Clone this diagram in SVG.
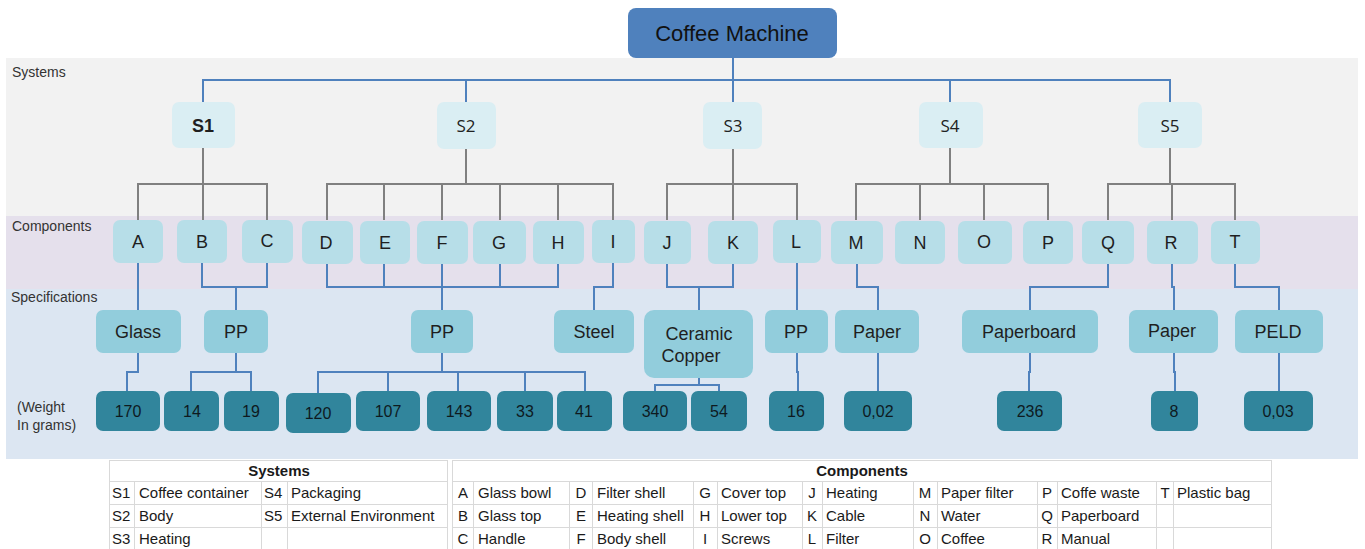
<svg xmlns="http://www.w3.org/2000/svg" width="1365" height="549" viewBox="0 0 1365 549">
<style>
.band-label{font-family:"Liberation Sans",Arial,sans-serif;font-size:14px;fill:#333}
.top{fill:#4f81bd}
.sys{fill:#daeef3}
.comp{fill:#b7dee8}
.spec{fill:#92cddc}
.wt{fill:#31859c}
.t{font-family:"Liberation Sans",Arial,sans-serif;text-anchor:middle;fill:#1f1f1f}
.ttop{font-size:22px;fill:#111}
.tsys{font-family:"Open Sans","Liberation Sans",sans-serif;font-size:17px;fill:#222}
.tc{font-size:18px}
.ts{font-size:18px}
.tw{font-size:16px;fill:#0e1a1f}
.blue{stroke:#4f81bd;stroke-width:2;fill:none}
.gray{stroke:#808080;stroke-width:2;fill:none}
.tbl{fill:#fff;stroke:#d9d9d9;stroke-width:1}
.tl{stroke:#d9d9d9;stroke-width:1}
.tx{font-family:"Liberation Sans",Arial,sans-serif;font-size:15px;fill:#1a1a1a}
.txc{font-family:"Liberation Sans",Arial,sans-serif;font-size:15px;fill:#1a1a1a;text-anchor:middle}
.th{font-family:"Liberation Sans",Arial,sans-serif;font-size:15px;font-weight:bold;fill:#1a1a1a;text-anchor:middle}
</style>
<rect width="1365" height="549" fill="#fff"/>
<g id="bands">
<rect x="6" y="58" width="1352" height="158" fill="#f2f2f2"/>
<rect x="6" y="216" width="1352" height="73" fill="#e5e0ec"/>
<rect x="6" y="289" width="1352" height="170" fill="#dce6f2"/>
<text class="band-label" x="12" y="77">Systems</text>
<text class="band-label" x="12" y="231">Components</text>
<text class="band-label" x="11" y="302">Specifications</text>
<text class="band-label" x="17" y="412">(Weight</text>
<text class="band-label" x="17" y="430">In grams)</text>
</g>
<g id="connectors">
<path class="blue" d="M733 58V80M203 102V80H1170V102M466 80V102M733 80V102M950 80V102"/>
<path class="gray" d="M203 148V184M138 220V184H267V220M203 184V220"/>
<path class="gray" d="M466 149V184M327 220V184H613V220M384 184V220M442 184V220M500 184V220M558 184V220"/>
<path class="gray" d="M733 149V184M667 220V184H797V220M733 184V220"/>
<path class="gray" d="M950 148V184M856 220V184H1048V220M920 184V220M984 184V220"/>
<path class="gray" d="M1170 148V184M1108 220V184H1235V220M1172 184V220"/>
<path class="blue" d="M138 263V310"/>
<path class="blue" d="M202 263V287H267V263M236 287V310"/>
<path class="blue" d="M327 264V287H558V264M384 264V287M500 264V287M442 264V310"/>
<path class="blue" d="M613 263V287H594V310"/>
<path class="blue" d="M667 263V287H733V263M699 287V310"/>
<path class="blue" d="M797 263V310"/>
<path class="blue" d="M857 263V287H878V310"/>
<path class="blue" d="M1108 263V287H1030V310"/>
<path class="blue" d="M1172 263V287H1174V310"/>
<path class="blue" d="M1235 263V287H1279V310"/>
<path class="blue" d="M138 353V372H127V391"/>
<path class="blue" d="M236 353V372M191 391V372H251V391"/>
<path class="blue" d="M442 353V372M318 393V372H585V391M388 372V391M458 372V391M525 372V391"/>
<path class="blue" d="M699 378V385M655 391V385H719V391"/>
<path class="blue" d="M797 353V372H798V391"/>
<path class="blue" d="M878 353V391"/>
<path class="blue" d="M1030 353V372H1029V391"/>
<path class="blue" d="M1174 353V372H1175V391"/>
<path class="blue" d="M1279 353V391"/>
</g>
<g id="coffee-machine"><rect class="top" x="628" y="8" width="209" height="50" rx="8"/><text class="t ttop" x="732" y="41">Coffee Machine</text></g>
<g id="S1"><rect class="sys" x="172" y="102" width="63" height="46" rx="7"/><text class="t" x="203" y="132" font-size="18" font-weight="bold" fill="#111">S1</text></g>
<g id="S2"><rect class="sys" x="437" y="102" width="59" height="47" rx="7"/><text class="t tsys" x="466" y="132">S2</text></g>
<g id="S3"><rect class="sys" x="703" y="102" width="59" height="47" rx="7"/><text class="t tsys" x="733" y="132">S3</text></g>
<g id="S4"><rect class="sys" x="919" y="102" width="64" height="46" rx="7"/><text class="t tsys" x="950" y="132">S4</text></g>
<g id="S5"><rect class="sys" x="1138" y="102" width="64" height="46" rx="7"/><text class="t tsys" x="1170" y="132">S5</text></g>
<g id="A"><rect class="comp" x="113" y="220" width="50" height="43" rx="7"/><text class="t tc" x="138" y="248">A</text></g>
<g id="B"><rect class="comp" x="177" y="220" width="50" height="43" rx="7"/><text class="t tc" x="202" y="248">B</text></g>
<g id="C"><rect class="comp" x="242" y="220" width="51" height="43" rx="7"/><text class="t tc" x="267" y="247">C</text></g>
<g id="D"><rect class="comp" x="302" y="221" width="51" height="43" rx="7"/><text class="t tc" x="326" y="249">D</text></g>
<g id="E"><rect class="comp" x="360" y="221" width="50" height="43" rx="7"/><text class="t tc" x="385" y="249">E</text></g>
<g id="F"><rect class="comp" x="417" y="221" width="51" height="43" rx="7"/><text class="t tc" x="442" y="249">F</text></g>
<g id="G"><rect class="comp" x="473" y="221" width="53" height="43" rx="7"/><text class="t tc" x="499" y="249">G</text></g>
<g id="H"><rect class="comp" x="533" y="221" width="51" height="43" rx="7"/><text class="t tc" x="558" y="249">H</text></g>
<g id="I"><rect class="comp" x="592" y="220" width="43" height="43" rx="7"/><text class="t tc" x="613" y="248">I</text></g>
<g id="J"><rect class="comp" x="644" y="221" width="47" height="43" rx="7"/><text class="t tc" x="667" y="249">J</text></g>
<g id="K"><rect class="comp" x="708" y="221" width="50" height="43" rx="7"/><text class="t tc" x="733" y="249">K</text></g>
<g id="L"><rect class="comp" x="773" y="220" width="48" height="43" rx="7"/><text class="t tc" x="796" y="248">L</text></g>
<g id="M"><rect class="comp" x="831" y="221" width="52" height="43" rx="7"/><text class="t tc" x="856" y="249">M</text></g>
<g id="N"><rect class="comp" x="895" y="221" width="50" height="43" rx="7"/><text class="t tc" x="920" y="249">N</text></g>
<g id="O"><rect class="comp" x="958" y="221" width="54" height="43" rx="7"/><text class="t tc" x="984" y="248">O</text></g>
<g id="P"><rect class="comp" x="1023" y="221" width="50" height="43" rx="7"/><text class="t tc" x="1048" y="249">P</text></g>
<g id="Q"><rect class="comp" x="1082" y="221" width="52" height="43" rx="7"/><text class="t tc" x="1108" y="249">Q</text></g>
<g id="R"><rect class="comp" x="1147" y="221" width="51" height="43" rx="7"/><text class="t tc" x="1171" y="249">R</text></g>
<g id="T"><rect class="comp" x="1211" y="221" width="49" height="43" rx="7"/><text class="t tc" x="1235" y="248">T</text></g>
<g id="spec-glass"><rect class="spec" x="96" y="310" width="85" height="43" rx="7"/><text class="t ts" x="138" y="338">Glass</text></g>
<g id="spec-pp1"><rect class="spec" x="204" y="310" width="64" height="43" rx="7"/><text class="t ts" x="236" y="338">PP</text></g>
<g id="spec-pp2"><rect class="spec" x="411" y="310" width="62" height="43" rx="7"/><text class="t ts" x="442" y="338">PP</text></g>
<g id="spec-steel"><rect class="spec" x="554" y="310" width="80" height="43" rx="7"/><text class="t ts" x="594" y="338">Steel</text></g>
<g id="spec-ceramic"><rect class="spec" x="644" y="310" width="109" height="68" rx="10"/><text class="t ts" x="699" y="340">Ceramic</text><text class="t ts" x="691" y="362">Copper</text></g>
<g id="spec-pp3"><rect class="spec" x="765" y="310" width="63" height="43" rx="7"/><text class="t ts" x="796" y="338">PP</text></g>
<g id="spec-paper1"><rect class="spec" x="835" y="310" width="84" height="43" rx="7"/><text class="t ts" x="877" y="338">Paper</text></g>
<g id="spec-paperboard"><rect class="spec" x="962" y="310" width="136" height="43" rx="7"/><text class="t ts" x="1029" y="338">Paperboard</text></g>
<g id="spec-paper2"><rect class="spec" x="1129" y="310" width="89" height="43" rx="7"/><text class="t ts" x="1172" y="337">Paper</text></g>
<g id="spec-peld"><rect class="spec" x="1235" y="310" width="88" height="43" rx="7"/><text class="t ts" x="1278" y="338">PELD</text></g>
<g id="w170"><rect class="wt" x="96" y="391" width="64" height="40" rx="7"/><text class="t tw" x="128" y="417">170</text></g>
<g id="w14"><rect class="wt" x="164" y="391" width="55" height="40" rx="7"/><text class="t tw" x="192" y="417">14</text></g>
<g id="w19"><rect class="wt" x="224" y="391" width="55" height="40" rx="7"/><text class="t tw" x="251" y="417">19</text></g>
<g id="w120"><rect class="wt" x="286" y="393" width="65" height="40" rx="7"/><text class="t tw" x="318" y="419">120</text></g>
<g id="w107"><rect class="wt" x="356" y="391" width="64" height="40" rx="7"/><text class="t tw" x="388" y="417">107</text></g>
<g id="w143"><rect class="wt" x="427" y="391" width="64" height="40" rx="7"/><text class="t tw" x="459" y="417">143</text></g>
<g id="w33"><rect class="wt" x="497" y="391" width="56" height="40" rx="7"/><text class="t tw" x="525" y="417">33</text></g>
<g id="w41"><rect class="wt" x="557" y="391" width="55" height="40" rx="7"/><text class="t tw" x="584" y="417">41</text></g>
<g id="w340"><rect class="wt" x="623" y="391" width="64" height="40" rx="7"/><text class="t tw" x="655" y="417">340</text></g>
<g id="w54"><rect class="wt" x="691" y="391" width="56" height="40" rx="7"/><text class="t tw" x="719" y="417">54</text></g>
<g id="w16"><rect class="wt" x="769" y="391" width="55" height="40" rx="7"/><text class="t tw" x="796" y="417">16</text></g>
<g id="w002"><rect class="wt" x="844" y="391" width="68" height="40" rx="7"/><text class="t tw" x="878" y="417">0,02</text></g>
<g id="w236"><rect class="wt" x="997" y="391" width="65" height="40" rx="7"/><text class="t tw" x="1030" y="417">236</text></g>
<g id="w8"><rect class="wt" x="1151" y="391" width="47" height="40" rx="7"/><text class="t tw" x="1174" y="417">8</text></g>
<g id="w003"><rect class="wt" x="1244" y="391" width="69" height="40" rx="7"/><text class="t tw" x="1278" y="417">0,03</text></g>
<g id="systems-table">
<rect class="tbl" x="109.5" y="460.5" width="338" height="95"/>
<path class="tl" d="M109 481.5H448M109 504.5H448M109 527.5H448M134.5 481V549M261.5 481V549M287.5 481V549"/>
<text class="th" x="279" y="476">Systems</text>
<text class="tx" x="112" y="498">S1</text><text class="tx" x="139" y="498">Coffee container</text>
<text class="tx" x="264" y="498">S4</text><text class="tx" x="291" y="498">Packaging</text>
<text class="tx" x="112" y="521">S2</text><text class="tx" x="139" y="521">Body</text>
<text class="tx" x="264" y="521">S5</text><text class="tx" x="291" y="521">External Environment</text>
<text class="tx" x="112" y="544">S3</text><text class="tx" x="139" y="544">Heating</text>
</g>
<g id="components-table">
<rect class="tbl" x="452.5" y="460.5" width="819" height="95"/>
<path class="tl" d="M452 481.5H1272M452 504.5H1272M452 527.5H1272M473.5 481V549M569.5 481V549M592.5 481V549M693.5 481V549M717.5 481V549M802.5 481V549M822.5 481V549M913.5 481V549M937.5 481V549M1037.5 481V549M1057.5 481V549M1156.5 481V549M1173.5 481V549"/>
<text class="th" x="862" y="476">Components</text>
<text class="txc" x="463" y="498">A</text><text class="tx" x="478" y="498">Glass bowl</text>
<text class="txc" x="463" y="521">B</text><text class="tx" x="478" y="521">Glass top</text>
<text class="txc" x="463" y="544">C</text><text class="tx" x="478" y="544">Handle</text>
<text class="txc" x="581" y="498">D</text><text class="tx" x="597" y="498">Filter shell</text>
<text class="txc" x="581" y="521">E</text><text class="tx" x="597" y="521">Heating shell</text>
<text class="txc" x="581" y="544">F</text><text class="tx" x="597" y="544">Body shell</text>
<text class="txc" x="705" y="498">G</text><text class="tx" x="721" y="498">Cover top</text>
<text class="txc" x="705" y="521">H</text><text class="tx" x="721" y="521">Lower top</text>
<text class="txc" x="705" y="544">I</text><text class="tx" x="721" y="544">Screws</text>
<text class="txc" x="812" y="498">J</text><text class="tx" x="826" y="498">Heating</text>
<text class="txc" x="812" y="521">K</text><text class="tx" x="826" y="521">Cable</text>
<text class="txc" x="812" y="544">L</text><text class="tx" x="826" y="544">Filter</text>
<text class="txc" x="925" y="498">M</text><text class="tx" x="941" y="498">Paper filter</text>
<text class="txc" x="925" y="521">N</text><text class="tx" x="941" y="521">Water</text>
<text class="txc" x="925" y="544">O</text><text class="tx" x="941" y="544">Coffee</text>
<text class="txc" x="1047" y="498">P</text><text class="tx" x="1061" y="498">Coffe waste</text>
<text class="txc" x="1047" y="521">Q</text><text class="tx" x="1061" y="521">Paperboard</text>
<text class="txc" x="1047" y="544">R</text><text class="tx" x="1061" y="544">Manual</text>
<text class="txc" x="1165" y="498">T</text><text class="tx" x="1177" y="498">Plastic bag</text>
</g>
</svg>
